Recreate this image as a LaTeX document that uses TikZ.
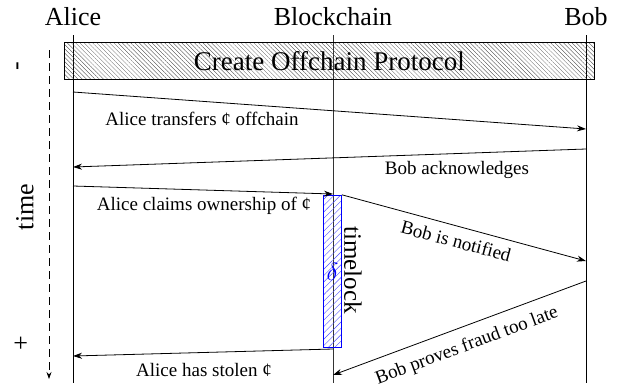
\documentclass[tikz,border=0pt]{standalone}
\usepackage{fontspec}
\setmainfont{Liberation Serif}
\usetikzlibrary{patterns.meta,arrows.meta}
\begin{document}
\begin{tikzpicture}[x=1pt,y=-1pt,
  lifeline/.style={line width=0.9pt},
  msg/.style={line width=0.8pt,-{Stealth[length=9pt,width=6pt]}},
  actor/.style={font=\fontsize{26}{28}\selectfont, inner sep=0pt},
  lbl/.style={font=\fontsize{19}{21}\selectfont, inner sep=0pt},
  axislbl/.style={font=\fontsize{26}{28}\selectfont, inner sep=0pt, rotate=90},
]
\useasboundingbox (0,0) rectangle (623,383);
% actors
\node[actor] (alice) at (73,17) {Alice};
\node[actor] (chain) at (333,17) {Blockchain};
\node[actor] (bob) at (586,17) {Bob};
% lifelines
\coordinate (aT) at (73,35);  \coordinate (aB) at (73,383);
\coordinate (cT) at (333,35); \coordinate (cB) at (333,383);
\coordinate (bT) at (586,35); \coordinate (bB) at (586,383);
\draw[lifeline] (aT) -- (aB);
\draw[lifeline, black!80] (cT) -- (cB);
\draw[lifeline] (bT) -- (bB);
% protocol box
\node[draw, line width=0.8pt, pattern={Lines[angle=-45,distance=3pt,line width=0.3pt]}, pattern color=black!75,
      minimum width=530pt, minimum height=37pt, inner sep=0pt,
      font=\fontsize{27}{29}\selectfont] (proto) at (329.3,61.3) {Create Offchain Protocol};
% time axis
\coordinate (tT) at (49,50); \coordinate (tB) at (49,379);
\draw[line width=0.7pt, dash pattern=on 8pt off 5pt, -{Stealth[length=7pt,width=5pt]}] (tT) -- (tB);
\node[axislbl] (minus) at (20,66) {-};
\node[axislbl] (time) at (25,207) {time};
\node[axislbl] (plus) at (22,343) {+};
% timelock
\node[draw=blue, line width=0.8pt, pattern={Lines[angle=45,distance=4.5pt,line width=0.4pt]}, pattern color=blue!70,
      minimum width=18.2pt, minimum height=152pt, inner sep=0pt] (tl) at (332.6,271) {};
\node[text=blue, font=\fontsize{27}{29}\selectfont, inner sep=0pt] (delta) at (332.6,272) {$\delta$};
\node[font=\fontsize{25}{27}\selectfont, inner sep=0pt, rotate=-90] (tllbl) at (353,270) {timelock};
% messages
\coordinate (m1s) at (73,92);   \coordinate (m1e) at (586,129);
\coordinate (m2s) at (586,149); \coordinate (m2e) at (73,167);
\coordinate (m3s) at (73,186);  \coordinate (m3e) at (333,194);
\coordinate (m4e) at (586,261);
\coordinate (m5s) at (586,281); \coordinate (m5e) at (333,375);
\coordinate (m6s) at (333,349); \coordinate (m6e) at (73,356);
\draw[msg] (m1s) -- (m1e);
\draw[msg] (m2s) -- (m2e);
\draw[msg] (m3s) -- (m3e);
\draw[msg] (tl.north east) -- (m4e);
\draw[msg] (m5s) -- (m5e);
\draw[msg] (m6s) -- (m6e);
% labels
\node[lbl] (l1) at (202,119) {Alice transfers ¢ offchain};
\node[lbl] (l2) at (457,170) {Bob acknowledges};
\node[lbl] (l3) at (204,206) {Alice claims ownership of ¢};
\node[lbl, rotate=-15] (l4) at (456,241) {Bob is notified};
\node[lbl, rotate=20.4] (l5) at (467,346) {Bob proves fraud too late};
\node[lbl] (l6) at (204,370) {Alice has stolen ¢};
\end{tikzpicture}
\end{document}
